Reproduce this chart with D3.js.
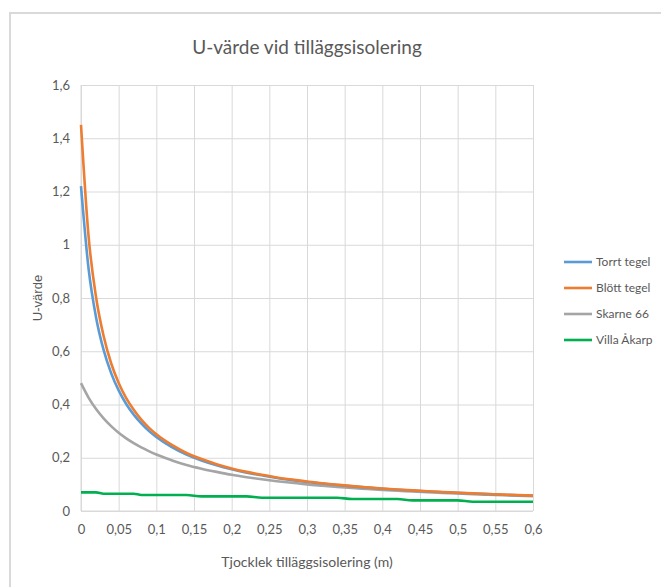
<!DOCTYPE html>
<html><head><meta charset="utf-8">
<script src="https://cdn.jsdelivr.net/npm/d3@7"></script>
<style>body{margin:0;background:#fff}svg{display:block}</style>
</head><body>
<script>
const thickness = [0,0.01,0.02,0.03,0.04,0.05,0.06,0.07,0.08,0.09,0.10,
  0.12,0.14,0.16,0.18,0.20,0.22,0.24,0.26,0.28,0.30,0.32,0.34,0.36,0.38,0.40,
  0.42,0.44,0.46,0.48,0.50,0.52,0.54,0.56,0.58,0.60];
const torrtTegel = [1.220,0.911,0.727,0.605,0.518,0.453,0.402,0.362,0.329,0.301,0.278,
  0.241,0.212,0.190,0.172,0.157,0.144,0.134,0.124,0.116,0.109,0.103,0.0974,0.0924,0.0879,0.0838,
  0.0801,0.0767,0.0735,0.0707,0.0680,0.0655,0.0632,0.0611,0.0591,0.0572];
const blottTegel = [1.450,1.033,0.803,0.657,0.555,0.481,0.424,0.380,0.343,0.313,0.288,
  0.249,0.218,0.195,0.176,0.160,0.147,0.136,0.126,0.118,0.111,0.104,0.0987,0.0935,0.0889,0.0847,
  0.0809,0.0774,0.0743,0.0713,0.0686,0.0661,0.0637,0.0616,0.0595,0.0576];
const skarne66 = [0.480,0.426,0.383,0.348,0.319,0.294,0.273,0.255,0.239,0.225,0.212,
  0.191,0.173,0.159,0.147,0.136,0.127,0.119,0.112,0.106,0.100,0.0952,0.0907,0.0865,0.0828,0.0793,
  0.0761,0.0732,0.0705,0.0680,0.0656,0.0634,0.0614,0.0594,0.0576,0.0559];
const villaAkarp = [0.070,0.070,0.070,0.065,0.065,0.065,0.065,0.065,0.060,0.060,0.060,
  0.060,0.060,0.055,0.055,0.055,0.055,0.050,0.050,0.050,0.050,0.050,0.050,0.045,0.045,0.045,
  0.045,0.040,0.040,0.040,0.040,0.035,0.035,0.035,0.035,0.035];
const seriesNames = ["Torrt tegel","Blött tegel","Skarne 66","Villa Åkarp"];
const seriesColors = ["#5B9BD5","#ED7D31","#A5A5A5","#00B050"];
const xTicks = [0,0.05,0.1,0.15,0.2,0.25,0.3,0.35,0.4,0.45,0.5,0.55,0.6];
const yTicks = [0,0.2,0.4,0.6,0.8,1,1.2,1.4,1.6];

const W = 661, H = 587;
const m = {left:81, right:128, top:85, bottom:76};
const fontMain = "Lato, 'Open Sans', sans-serif";
const textCol = "#595959";
const fmt = v => String(v).replace(".", ",");

const svg = d3.select("body").append("svg").attr("width", W).attr("height", H);
svg.append("rect").attr("x",10).attr("y",13).attr("width",W+20).attr("height",H+20)
  .attr("fill","#fff").attr("stroke","#d9d9d9").attr("stroke-width",2);

const x = d3.scaleLinear().domain([0,0.6]).range([m.left, W - m.right]);
const y = d3.scaleLinear().domain([0,1.6]).range([H - m.bottom, m.top]);

// gridlines
const gx = svg.append("g").attr("transform",`translate(0,${H-m.bottom})`)
  .call(d3.axisBottom(x).tickValues(xTicks).tickSize(-(H-m.bottom-m.top)).tickFormat(""));
const gy = svg.append("g").attr("transform",`translate(${m.left},0)`)
  .call(d3.axisLeft(y).tickValues(yTicks).tickSize(-(W-m.right-m.left)).tickFormat(""));
[gx,gy].forEach(g=>{g.select(".domain").remove();g.selectAll("line").attr("stroke","#d9d9d9").attr("stroke-width",1);});

// tick labels
const ax = svg.append("g").attr("transform",`translate(0,${H-m.bottom})`)
  .call(d3.axisBottom(x).tickValues(xTicks).tickSize(0).tickPadding(14).tickFormat(fmt));
const ay = svg.append("g").attr("transform",`translate(${m.left},0)`)
  .call(d3.axisLeft(y).tickValues(yTicks).tickSize(0).tickPadding(11).tickFormat(fmt));
[ax,ay].forEach(g=>{g.select(".domain").remove();g.selectAll("text").attr("fill",textCol).style("font-family",fontMain).style("font-size","13px");});
// axis lines
svg.append("line").attr("x1",x(0)).attr("x2",x(0.6)).attr("y1",y(0)).attr("y2",y(0)).attr("stroke","#d9d9d9");
svg.append("line").attr("x1",x(0)).attr("x2",x(0)).attr("y1",y(0)).attr("y2",y(1.6)).attr("stroke","#d9d9d9");

const data = [torrtTegel, blottTegel, skarne66, villaAkarp];
const line = d3.line().x((d,i)=>x(thickness[i])).y(d=>y(d)).curve(d3.curveMonotoneX);
// draw order: Villa, Skarne, Torrt, Blött
[3,2,0,1].forEach(k=>{
  svg.append("path").datum(data[k]).attr("d",line).attr("fill","none")
    .attr("stroke",seriesColors[k]).attr("stroke-width",2.6).attr("stroke-linejoin","round");
});

// title
svg.append("text").attr("x",(m.left + W - m.right)/2).attr("y",54).attr("text-anchor","middle")
  .attr("fill",textCol).style("font-family",fontMain).style("font-size","19px").text("U-värde vid tilläggsisolering");
// x title
svg.append("text").attr("x",(m.left + W - m.right)/2).attr("y",567).attr("text-anchor","middle")
  .attr("fill",textCol).style("font-family",fontMain).style("font-size","14px").text("Tjocklek tilläggsisolering (m)");
// y title
svg.append("text").attr("transform",`translate(42,${(y(0)+y(1.6))/2}) rotate(-90)`).attr("text-anchor","middle")
  .attr("fill",textCol).style("font-family","'Liberation Sans', Arial, sans-serif").style("font-size","13px").text("U-värde");

// legend
const lg = svg.append("g");
seriesNames.forEach((n,i)=>{
  const yy = 262 + i*26;
  lg.append("line").attr("x1",564).attr("x2",592).attr("y1",yy).attr("y2",yy)
    .attr("stroke",seriesColors[i]).attr("stroke-width",2.6);
  lg.append("text").attr("x",596).attr("y",yy).attr("dy","0.35em").attr("fill",textCol)
    .style("font-family",fontMain).style("font-size","12px").text(n);
});
</script>
</body></html>
